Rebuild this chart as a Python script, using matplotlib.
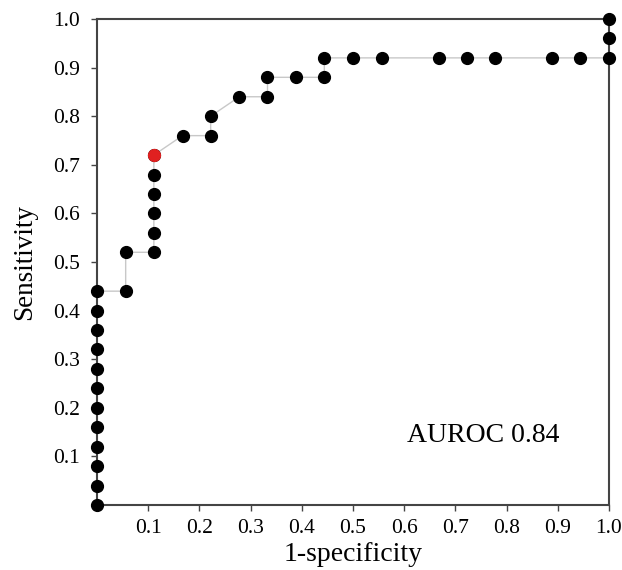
import matplotlib
matplotlib.use("Agg")
import matplotlib.pyplot as plt

# ROC data (1-specificity, sensitivity)
fpr = [0, 0, 0, 0, 0, 0, 0, 0, 0, 0, 0, 0,
       0.056, 0.056, 0.111, 0.111, 0.111, 0.111, 0.111, 0.111,
       0.167, 0.222, 0.222, 0.278, 0.333, 0.333, 0.389, 0.444, 0.444,
       0.5, 0.556, 0.667, 0.722, 0.778, 0.889, 0.944, 1.0, 1.0, 1.0]
tpr = [0.0, 0.04, 0.08, 0.12, 0.16, 0.20, 0.24, 0.28, 0.32, 0.36, 0.40, 0.44,
       0.44, 0.52, 0.52, 0.56, 0.60, 0.64, 0.68, 0.72,
       0.76, 0.76, 0.80, 0.84, 0.84, 0.88, 0.88, 0.88, 0.92,
       0.92, 0.92, 0.92, 0.92, 0.92, 0.92, 0.92, 0.92, 0.96, 1.0]
optimal_point = (0.111, 0.72)
auroc_label = "AUROC 0.84"
xticks = [0.1, 0.2, 0.3, 0.4, 0.5, 0.6, 0.7, 0.8, 0.9, 1.0]
yticks = [0.1, 0.2, 0.3, 0.4, 0.5, 0.6, 0.7, 0.8, 0.9, 1.0]

plt.rcParams['font.family'] = ['Liberation Serif', 'DejaVu Serif']

fig = plt.figure(figsize=(6.22, 5.70), dpi=100)
ax = fig.add_axes([97/622, 65/570, 512/622, 486/570])

ax.plot(fpr, tpr, color='#c8c8c8', lw=1.0, zorder=2, clip_on=False)
ax.plot(fpr, tpr, linestyle='none', marker='o', markersize=8.5,
        color='black', zorder=3, clip_on=False)
ax.plot([optimal_point[0]], [optimal_point[1]], linestyle='none', marker='o',
        markersize=8.5, color='#e02020', zorder=4, clip_on=False)

ax.set_xlim(0, 1)
ax.set_ylim(0, 1)
ax.set_xticks(xticks)
ax.set_yticks(yticks)
ax.set_xticklabels([f"{v:.1f}" for v in xticks])
ax.set_yticklabels([f"{v:.1f}" for v in yticks])
ax.tick_params(axis='both', labelsize=15.5, length=4, width=1, color='#444444',
               direction='out')
ax.tick_params(axis='y', pad=8)
ax.tick_params(axis='x', pad=6)
for sp in ax.spines.values():
    sp.set_color('#444444')
    sp.set_linewidth(1.5)

ax.set_xlabel("1-specificity", fontsize=20, labelpad=3)
ax.set_ylabel("Sensitivity", fontsize=19.5, labelpad=12)
ax.text(0.605, 0.144, auroc_label, fontsize=20, ha='left', va='center',
        transform=ax.transData)

fig.savefig("out.png", dpi=100)
